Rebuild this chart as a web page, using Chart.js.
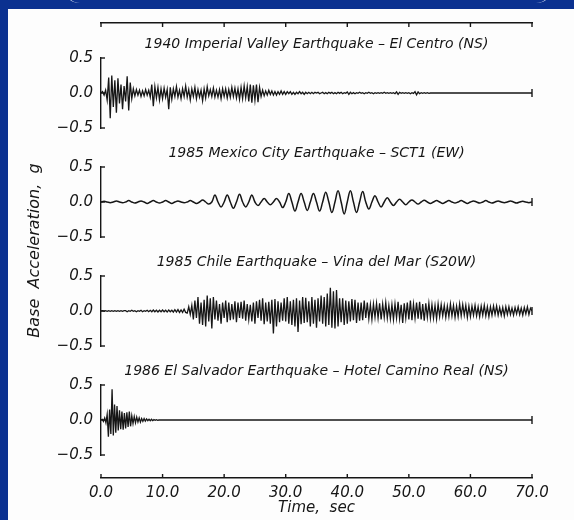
<!DOCTYPE html>
<html>
<head>
<meta charset="utf-8">
<title>Base acceleration records</title>
<script src="https://cdn.jsdelivr.net/npm/chart.js@4.4.1/dist/chart.umd.min.js"></script>
<style>
  html, body { margin: 0; padding: 0; }
  body { width: 574px; height: 520px; background: #0b3190; position: relative; overflow: hidden; }
  #sheet { position: absolute; left: 8px; top: 9px; right: 0; bottom: 0; background: #fdfdfd; }
  #rim { position: absolute; left: 62px; top: -26px; width: 488px; height: 29px;
         border-left: 2px solid #dfe6f5; border-right: 2px solid #dfe6f5; border-radius: 0 0 18px 18px; }
  canvas { position: absolute; left: 0; }
</style>
</head>
<body>
<div id="sheet"></div>
<div id="rim"></div>
<canvas id="frame" width="574" height="520" style="top:0"></canvas>
<canvas id="p0" width="574" height="110"></canvas>
<canvas id="p1" width="574" height="110"></canvas>
<canvas id="p2" width="574" height="110"></canvas>
<canvas id="p3" width="574" height="110"></canvas>
<script>
// tick values shared by every panel
const timeTicks = [0, 10, 20, 30, 40, 50, 60, 70];
const accelTicks = [-0.5, 0, 0.5];

const recordTitles = [
  "1940 Imperial Valley Earthquake \u2013 El Centro (NS)",
  "1985 Mexico City Earthquake \u2013 SCT1 (EW)",
  "1985 Chile Earthquake \u2013 Vina del Mar (S20W)",
  "1986 El Salvador Earthquake \u2013 Hotel Camino Real (NS)"
];

// accelerations in g; one value per sample step (seconds)
const elCentroStep = 0.25;
const elCentro = [
  0.00, 0.02, -0.03, 0.04,   -0.10, 0.22, -0.36, 0.25,   -0.20, 0.18, -0.28, 0.21,
  -0.15, 0.12, -0.23, 0.10,  -0.12, 0.24, -0.25, 0.15,   -0.08, 0.06, -0.04, 0.05,
  -0.03, 0.04, -0.05, 0.03,  -0.04, 0.05, -0.03, 0.04,   -0.06, 0.12, -0.19, 0.09,
  -0.07, 0.08, -0.10, 0.06,  -0.08, 0.07, -0.06, 0.05,   -0.23, 0.08, -0.09, 0.06,
  -0.05, 0.09, -0.06, 0.04,  -0.08, 0.06, -0.05, 0.10,   -0.06, 0.05, -0.10, 0.06,
  -0.05, 0.08, -0.08, 0.05,  -0.06, 0.04, -0.11, 0.06,   -0.07, 0.09, -0.04, 0.05,
  -0.05, 0.07, -0.06, 0.04,  -0.06, 0.05, -0.08, 0.06,   -0.05, 0.06, -0.07, 0.05,
  -0.06, 0.08, -0.05, 0.07,  -0.07, 0.06, -0.09, 0.08,   -0.08, 0.10, -0.07, 0.09,
  -0.12, 0.12, -0.14, 0.11,  -0.10, 0.12, -0.13, 0.08,   -0.05, 0.04, -0.04, 0.03,
  -0.03, 0.04, -0.02, 0.03,  -0.03, 0.02, -0.03, 0.02,   -0.02, 0.03, -0.02, 0.02,
  -0.02, 0.02, -0.01, 0.02,  -0.02, 0.01, -0.02, 0.01,   -0.01, 0.02, -0.01, 0.01,
  -0.02, 0.01, -0.01, 0.01,  -0.01, 0.01, -0.01, 0.01,   0.00, 0.01, -0.01, 0.00,
  0.01, -0.01, 0.005, -0.01,  0.01, -0.005, 0.01, -0.01,  0.005, -0.01, 0.01, -0.005,
  0.01, -0.01, 0.005, -0.005, 0.015, -0.02, 0.01, -0.01,  0.005, -0.01, 0.005, -0.005,
  0.01, -0.005, 0.005, -0.01, 0.005, -0.005, 0.01, -0.005, 0.005, -0.01, 0.005, -0.005,
  0.005, -0.005, 0.005, -0.005, 0.01, -0.005, 0.005, -0.005, 0.005, -0.005, 0.005, -0.01,
  0.015, -0.02, 0.01, -0.005, 0.005, -0.005, 0.005, -0.005, 0.005, -0.01, 0.005, -0.005,
  0.02, -0.025, 0.015, -0.01, 0.005, -0.005, 0.005, -0.005, 0.005, -0.005, 0, 0
];

const mexicoStep = 0.5;
const mexicoCity = [
  0, 0.01, 0, -0.01,   0, 0.015, 0, -0.01,  0, 0.02, 0, -0.015,  0, 0.015, 0, -0.02,
  0, 0.02, 0, -0.015,  0, 0.02, 0, -0.02,   0, 0.015, 0, -0.01,  0, 0.02, 0, -0.02,
  0, 0.03, 0, -0.03,   0, 0.10, 0, -0.07,   0, 0.10, 0, -0.09,   0, 0.11, 0, -0.07,
  0, 0.10, 0, -0.05,   0, 0.05, 0, -0.04,   0, 0.05, 0, -0.08,   0, 0.12, 0, -0.13,
  0, 0.12, 0, -0.12,   0, 0.12, 0, -0.13,   0, 0.14, 0, -0.15,   0, 0.16, 0, -0.17,
  0, 0.16, 0, -0.15,   0, 0.15, 0, -0.10,   0, 0.09, 0, -0.07,   0, 0.06, 0, -0.05,
  0, 0.04, 0, -0.04,   0, 0.03, 0, -0.03,   0, 0.025, 0, -0.02,  0, 0.02, 0, -0.02,
  0, 0.02, 0, -0.015,  0, 0.02, 0, -0.02,   0, 0.015, 0, -0.015, 0, 0.02, 0, -0.015,
  0, 0.015, 0, -0.01,  0, 0.015, 0, -0.015, 0, 0.01, 0, -0.01
];

const chileStep = 0.25;
const chile = [
  0, 0.005, -0.005, 0.005,  -0.005, 0.005, -0.005, 0.005,  -0.005, 0.005, -0.005, 0.005,  -0.005, 0.005, -0.005, 0.005,
  0.005, -0.01, 0.005, -0.005,  0.01, -0.005, 0.005, -0.01,  0.005, -0.005, 0.01, -0.01,  0.005, -0.005, 0.01, -0.01,
  0.01, -0.01, 0.015, -0.01,  0.01, -0.015, 0.01, -0.01,  0.015, -0.01, 0.01, -0.015,  0.015, -0.01, 0.01, -0.015,
  0.02, -0.015, 0.02, -0.02,  0.015, -0.02, 0.025, -0.02,
  -0.03, 0.06, -0.05, 0.08,  -0.12, 0.15, -0.10, 0.20,  -0.18, 0.12, -0.20, 0.16,  -0.22, 0.22, -0.15, 0.18,
  -0.25, 0.20, -0.12, 0.15,  -0.14, 0.10, -0.18, 0.12,  -0.10, 0.15, -0.16, 0.12,  -0.13, 0.10, -0.12, 0.14,
  -0.16, 0.12, -0.10, 0.13,  -0.11, 0.15, -0.14, 0.10,  -0.12, 0.09, -0.15, 0.12,  -0.18, 0.14, -0.10, 0.16,
  -0.14, 0.18, -0.19, 0.12,  -0.15, 0.13, -0.18, 0.16,  -0.32, 0.17, -0.22, 0.14,  -0.16, 0.12, -0.14, 0.18,
  -0.15, 0.20, -0.18, 0.14,  -0.20, 0.16, -0.22, 0.18,  -0.30, 0.15, -0.19, 0.20,  -0.17, 0.19, -0.16, 0.14,
  -0.22, 0.20, -0.18, 0.16,  -0.24, 0.18, -0.15, 0.22,  -0.18, 0.20, -0.22, 0.25,  -0.20, 0.33, -0.24, 0.28,
  -0.25, 0.30, -0.22, 0.18,  -0.16, 0.18, -0.20, 0.15,  -0.18, 0.14, -0.15, 0.17,  -0.13, 0.16, -0.17, 0.12,
  -0.14, 0.12, -0.13, 0.15,  -0.10, 0.12, -0.11, 0.09,  -0.12, 0.10, -0.09, 0.11,  -0.10, 0.11, -0.12, 0.10,
  -0.09, 0.12, -0.10, 0.08,  -0.11, 0.09, -0.12, 0.10,  -0.10, 0.13, -0.11, 0.09,  -0.17, 0.11, -0.10, 0.12,
  -0.12, 0.15, -0.13, 0.10,  -0.10, 0.12, -0.11, 0.13,  -0.12, 0.10, -0.14, 0.11,  -0.09, 0.11, -0.10, 0.09,
  -0.10, 0.08, -0.11, 0.10,  -0.08, 0.09, -0.07, 0.08,  -0.09, 0.07, -0.08, 0.10,  -0.07, 0.08, -0.09, 0.07,
  -0.08, 0.10, -0.07, 0.09,  -0.06, 0.08, -0.09, 0.07,  -0.08, 0.07, -0.06, 0.08,  -0.07, 0.06, -0.08, 0.07,
  -0.06, 0.08, -0.07, 0.06,  -0.08, 0.06, -0.06, 0.07,  -0.05, 0.07, -0.06, 0.05,  -0.06, 0.05, -0.07, 0.06,
  -0.05, 0.06, -0.05, 0.04,  -0.06, 0.05, -0.04, 0.06,  -0.05, 0.04, -0.06, 0.05,  -0.04, 0.06, -0.05, 0.04
];

const elSalvadorStep = 0.2;
const elSalvador = [
  0, 0.01, -0.02, 0.03, -0.04,      0.08, -0.24, 0.15, -0.20, 0.44,
  -0.22, 0.22, -0.18, 0.20, -0.15,  0.14, -0.13, 0.12, -0.14, 0.10,
  -0.12, 0.11, -0.10, 0.12, -0.09,  0.06, -0.05, 0.05, -0.04, 0.04,
  -0.03, 0.03, -0.03, 0.02, -0.02,  0.02, -0.015, 0.015, -0.01, 0.01,
  -0.01, 0.01, -0.01, 0.005, -0.005, 0.005, -0.005, 0, 0, 0
];

const records = [elCentro, mexicoCity, chile, elSalvador];
const steps = [elCentroStep, mexicoStep, chileStep, elSalvadorStep];
const tensions = [0, 0.4, 0, 0];
const traceWidths = [1.3, 1.5, 1.3, 1.3];

const ink = "#161616";
const family = "DejaVu Sans";
const italic = size => ({ family: family, size: size, style: "italic", weight: "normal" });

Chart.defaults.color = ink;
Chart.defaults.font.family = family;

// sampled values -> points, trace padded flat up to the end of the time axis
function toPoints(values, step) {
  const pts = values.map((v, i) => ({ x: i * step, y: v }));
  pts.push({ x: timeTicks[timeTicks.length - 1], y: 0 });
  return pts;
}

const fmt = v => (v < 0 ? "\u2212" : "") + Math.abs(v).toFixed(1);

// short ticks pointing into the plot, like the original figure
const innerTicks = {
  id: "innerTicks",
  afterDraw(chart, args, opts) {
    const ctx = chart.ctx;
    ctx.save();
    ctx.strokeStyle = ink;
    ctx.lineWidth = 1.4;
    opts.scales.forEach(id => {
      const scale = chart.scales[id];
      scale.ticks.forEach(tick => {
        const p = scale.getPixelForValue(tick.value);
        ctx.beginPath();
        if (scale.isHorizontal()) {
          const top = scale.position === "top";
          const edge = top ? scale.bottom : scale.top;
          ctx.moveTo(p, edge);
          ctx.lineTo(p, edge + (top ? 1 : -1) * opts.length);
        } else {
          ctx.moveTo(scale.right, p);
          ctx.lineTo(scale.right + opts.length, p);
        }
        ctx.stroke();
      });
    });
    ctx.restore();
  }
};

// little vertical bar where each trace ends
const endMark = {
  id: "endMark",
  afterDatasetsDraw(chart, args, opts) {
    const { x, y } = chart.scales;
    const px = x.getPixelForValue(opts.at);
    const py = y.getPixelForValue(0);
    const ctx = chart.ctx;
    ctx.save();
    ctx.strokeStyle = ink;
    ctx.lineWidth = 1.4;
    ctx.beginPath();
    ctx.moveTo(px, py - opts.half);
    ctx.lineTo(px, py + opts.half);
    ctx.stroke();
    ctx.restore();
  }
};

const setTimeTicks = s => { s.ticks = timeTicks.map(v => ({ value: v })); };

// frame: time axes top and bottom, shared y title
new Chart(document.getElementById("frame"), {
  type: "line",
  data: { datasets: [] },
  options: {
    responsive: false,
    animation: false,
    events: [],
    layout: { padding: { left: 25, right: 42, top: 23, bottom: 0 } },
    plugins: {
      legend: { display: false },
      tooltip: { enabled: false },
      innerTicks: { scales: ["x", "xTop"], length: 4 }
    },
    scales: {
      x: {
        type: "linear", position: "bottom", min: 0, max: 70,
        afterBuildTicks: setTimeTicks,
        afterFit: s => { s.height = 42; },
        grid: { drawOnChartArea: false, drawTicks: false },
        border: { display: true, color: ink, width: 1.5 },
        ticks: { padding: 6, color: ink, font: italic(15), callback: v => v.toFixed(1) },
        title: { display: true, text: "Time,  sec", color: ink, font: italic(15), padding: { top: 0, bottom: 3 } }
      },
      xTop: {
        type: "linear", position: "top", min: 0, max: 70,
        afterBuildTicks: setTimeTicks,
        afterFit: s => { s.height = 0; },
        grid: { drawOnChartArea: false, drawTicks: false },
        border: { display: true, color: ink, width: 1.5 },
        ticks: { display: false }
      },
      y: {
        afterFit: s => { s.width = 76; },
        grid: { display: false },
        border: { display: false },
        ticks: { display: false },
        title: { display: true, text: "Base  Acceleration,  g", color: ink, font: italic(16), padding: 0 }
      }
    }
  },
  plugins: [innerTicks]
});

// one chart per earthquake record
records.forEach((values, k) => {
  const canvas = document.getElementById("p" + k);
  canvas.style.top = (35 + 109 * k) + "px";
  new Chart(canvas, {
    type: "line",
    data: {
      datasets: [{
        data: toPoints(values, steps[k]),
        borderColor: ink,
        borderWidth: traceWidths[k],
        pointRadius: 0,
        tension: tensions[k]
      }]
    },
    options: {
      responsive: false,
      animation: false,
      events: [],
      parsing: false,
      layout: { padding: { left: 0, right: 42, top: 0, bottom: 15 } },
      plugins: {
        legend: { display: false },
        tooltip: { enabled: false },
        title: {
          display: true, text: recordTitles[k], fullSize: false, color: ink,
          font: italic(14), padding: { top: 1, bottom: 5.2 }
        },
        innerTicks: { scales: ["y"], length: 4 },
        endMark: { at: timeTicks[timeTicks.length - 1], half: 4 }
      },
      scales: {
        x: { type: "linear", display: false, min: 0, max: 70 },
        y: {
          min: -0.5, max: 0.5,
          afterBuildTicks: s => { s.ticks = accelTicks.map(v => ({ value: v })); },
          afterFit: s => { s.width = 101; },
          grid: { drawOnChartArea: false, drawTicks: false },
          border: { display: true, color: ink, width: 1.4 },
          ticks: { padding: 8, color: ink, font: italic(15), callback: fmt }
        }
      }
    },
    plugins: [innerTicks, endMark]
  });
});
</script>
</body>
</html>
